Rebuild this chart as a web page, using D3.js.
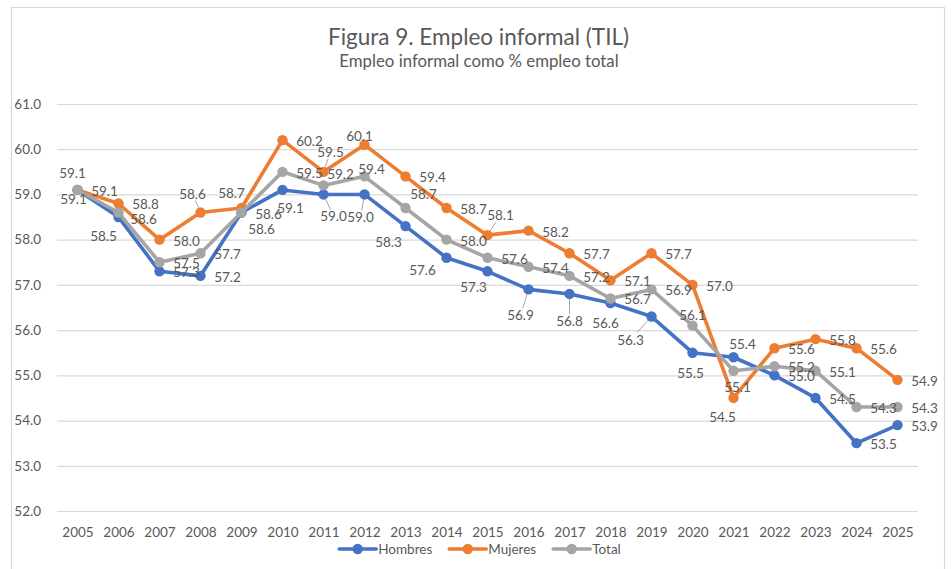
<!DOCTYPE html>
<html>
<head>
<meta charset="utf-8">
<script src="https://cdn.jsdelivr.net/npm/d3@7"></script>
<style>
  html, body { margin: 0; padding: 0; background: #fff; }
  svg { display: block; font-family: Lato, "Open Sans", sans-serif; }
</style>
</head>
<body>
<svg id="chart" width="951" height="569"></svg>
<script>
// ---------- data ----------
const years = ["2005","2006","2007","2008","2009","2010","2011","2012","2013","2014","2015",
               "2016","2017","2018","2019","2020","2021","2022","2023","2024","2025"];
const hombres = [59.1,58.5,57.3,57.2,58.6,59.1,59.0,59.0,58.3,57.6,57.3,56.9,56.8,56.6,56.3,55.5,55.4,55.0,54.5,53.5,53.9];
const mujeres = [59.1,58.8,58.0,58.6,58.7,60.2,59.5,60.1,59.4,58.7,58.1,58.2,57.7,57.1,57.7,57.0,54.5,55.6,55.8,55.6,54.9];
const total   = [59.1,58.6,57.5,57.7,58.6,59.5,59.2,59.4,58.7,58.0,57.6,57.4,57.2,56.7,56.9,56.1,55.1,55.2,55.1,54.3,54.3];
const yTicks  = [52,53,54,55,56,57,58,59,60,61];
const titleText = "Figura 9. Empleo informal (TIL)";
const subtitleText = "Empleo informal como % empleo total";

// ---------- styling / label placement ----------
const seriesStyle = [
  {name: "Hombres", values: hombres, color: "#4472C4"},
  {name: "Mujeres", values: mujeres, color: "#ED7D31"},
  {name: "Total",   values: total,   color: "#A5A5A5"}
];
// label offset (label centre relative to marker), R = right of marker
const R = [27, 1];
const labelOffsets = {
  Hombres: [[-5,-17],[-15,19],R,R,[20,16],[8,18],[10,22],[-4,23],[-17,16],[-24,12],[-14,16],
            [-8,26],[0,27],[-5,20],[-21,23],[-2,20],[9,-13],R,R,R,R],
  Mujeres: [R,R,R,[-8,-19],[-10,-15],R,[7,-20],[-5,-9],R,R,[13,-20],
            R,R,R,R,R,[-11,19],R,R,R,R],
  Total:   [[-4,9],[25,6],R,R,R,R,[17,-11],[7,-7],[18,-14],R,R,
            R,R,R,R,[0,-11],[4,16],R,R,R,R]
};
const leaders = {
  Hombres: ["2011","2012","2016","2017","2019"],
  Mujeres: ["2008","2011","2015"],
  Total: []
};
const textColor = "#595959";
const gridColor = "#D9D9D9";

// ---------- layout ----------
const svg = d3.select("#chart");
const plot = {left: 57, right: 918, top: 104, bottom: 511};

const x = d3.scalePoint().domain(years).range([plot.left, plot.right]).padding(0.5);
const y = d3.scaleLinear().domain([52, 61]).range([plot.bottom, plot.top]);

// outer frame
svg.append("path")
  .attr("d", "M11.5,569 L11.5,7.5 L944.5,7.5 L944.5,569")
  .attr("fill", "none").attr("stroke", gridColor).attr("stroke-width", 1.2);

// title
svg.append("text").attr("x", 478.5).attr("y", 45)
  .attr("text-anchor", "middle").attr("fill", textColor)
  .style("font-size", "22.5px").text(titleText);
svg.append("text").attr("x", 479).attr("y", 67)
  .attr("text-anchor", "middle").attr("fill", textColor)
  .style("font-size", "16.8px").text(subtitleText);

// y grid + labels via axis
const yAxis = d3.axisLeft(y).tickValues(yTicks).tickFormat(d3.format(".1f"))
  .tickSize(-(plot.right - plot.left)).tickPadding(16);
const gy = svg.append("g").attr("transform", `translate(${plot.left},0)`).call(yAxis);
gy.select(".domain").remove();
gy.selectAll(".tick line").attr("stroke", gridColor).attr("stroke-width", 1.2);
gy.selectAll(".tick text").attr("fill", textColor).style("font-size", "13.5px")
  .style("font-family", "Lato, sans-serif");

// x labels via axis
const xAxis = d3.axisBottom(x).tickSize(0).tickPadding(16);
const gx = svg.append("g").attr("transform", `translate(0,${plot.bottom})`).call(xAxis);
gx.select(".domain").remove();
gx.selectAll(".tick text").attr("fill", textColor).style("font-size", "13.5px")
  .style("font-family", "Lato, sans-serif");

// lines + markers
const line = d3.line().x((d, i) => x(years[i])).y(d => y(d));
seriesStyle.forEach(s => {
  svg.append("path").datum(s.values)
    .attr("d", line).attr("fill", "none")
    .attr("stroke", s.color).attr("stroke-width", 3.6)
    .attr("stroke-linejoin", "round").attr("stroke-linecap", "round");
  svg.append("g").selectAll("circle").data(s.values).join("circle")
    .attr("cx", (d, i) => x(years[i])).attr("cy", d => y(d))
    .attr("r", 5.2).attr("fill", s.color);
});

// data labels
const fmt = d3.format(".1f");
seriesStyle.forEach(s => {
  const offs = labelOffsets[s.name];
  const g = svg.append("g");
  s.values.forEach((v, i) => {
    const px = x(years[i]), py = y(v);
    const [dx, dy] = offs[i];
    const lx = px + dx, ly = py + dy;
    if (leaders[s.name].includes(years[i])) {
      const hw = 15, hh = 7;
      const vx = px - lx, vy = py - ly;
      const tBox = Math.min(Math.abs(hw / (vx || 1e-6)), Math.abs(hh / (vy || 1e-6)));
      const sx = lx + vx * tBox, sy = ly + vy * tBox;
      const len = Math.hypot(vx, vy);
      const ex = px - vx / len * 5, ey = py - vy / len * 5;
      g.append("line").attr("x1", sx).attr("y1", sy).attr("x2", ex).attr("y2", ey)
        .attr("stroke", "#A6A6A6").attr("stroke-width", 1);
    }
    g.append("text").attr("x", lx).attr("y", ly)
      .attr("text-anchor", "middle").attr("dominant-baseline", "central")
      .attr("fill", textColor).style("font-size", "13.5px")
      .text(fmt(v));
  });
});

// legend
const legend = svg.append("g");
let cx = 0;
seriesStyle.forEach((s) => {
  const it = legend.append("g").attr("transform", `translate(${cx},0)`);
  it.append("line").attr("x1", 0).attr("x2", 37).attr("y1", 0).attr("y2", 0)
    .attr("stroke", s.color).attr("stroke-width", 3.6).attr("stroke-linecap", "round");
  it.append("circle").attr("cx", 18.5).attr("cy", 0).attr("r", 5.2).attr("fill", s.color);
  const t = it.append("text").attr("x", 39).attr("y", 0).attr("dominant-baseline", "central")
    .attr("fill", textColor).style("font-size", "13.5px").text(s.name);
  const w = t.node().getComputedTextLength();
  cx += 39 + w + 17;
});
const totalW = cx - 17;
legend.attr("transform", `translate(${480 - totalW / 2},549)`);
</script>
</body>
</html>
